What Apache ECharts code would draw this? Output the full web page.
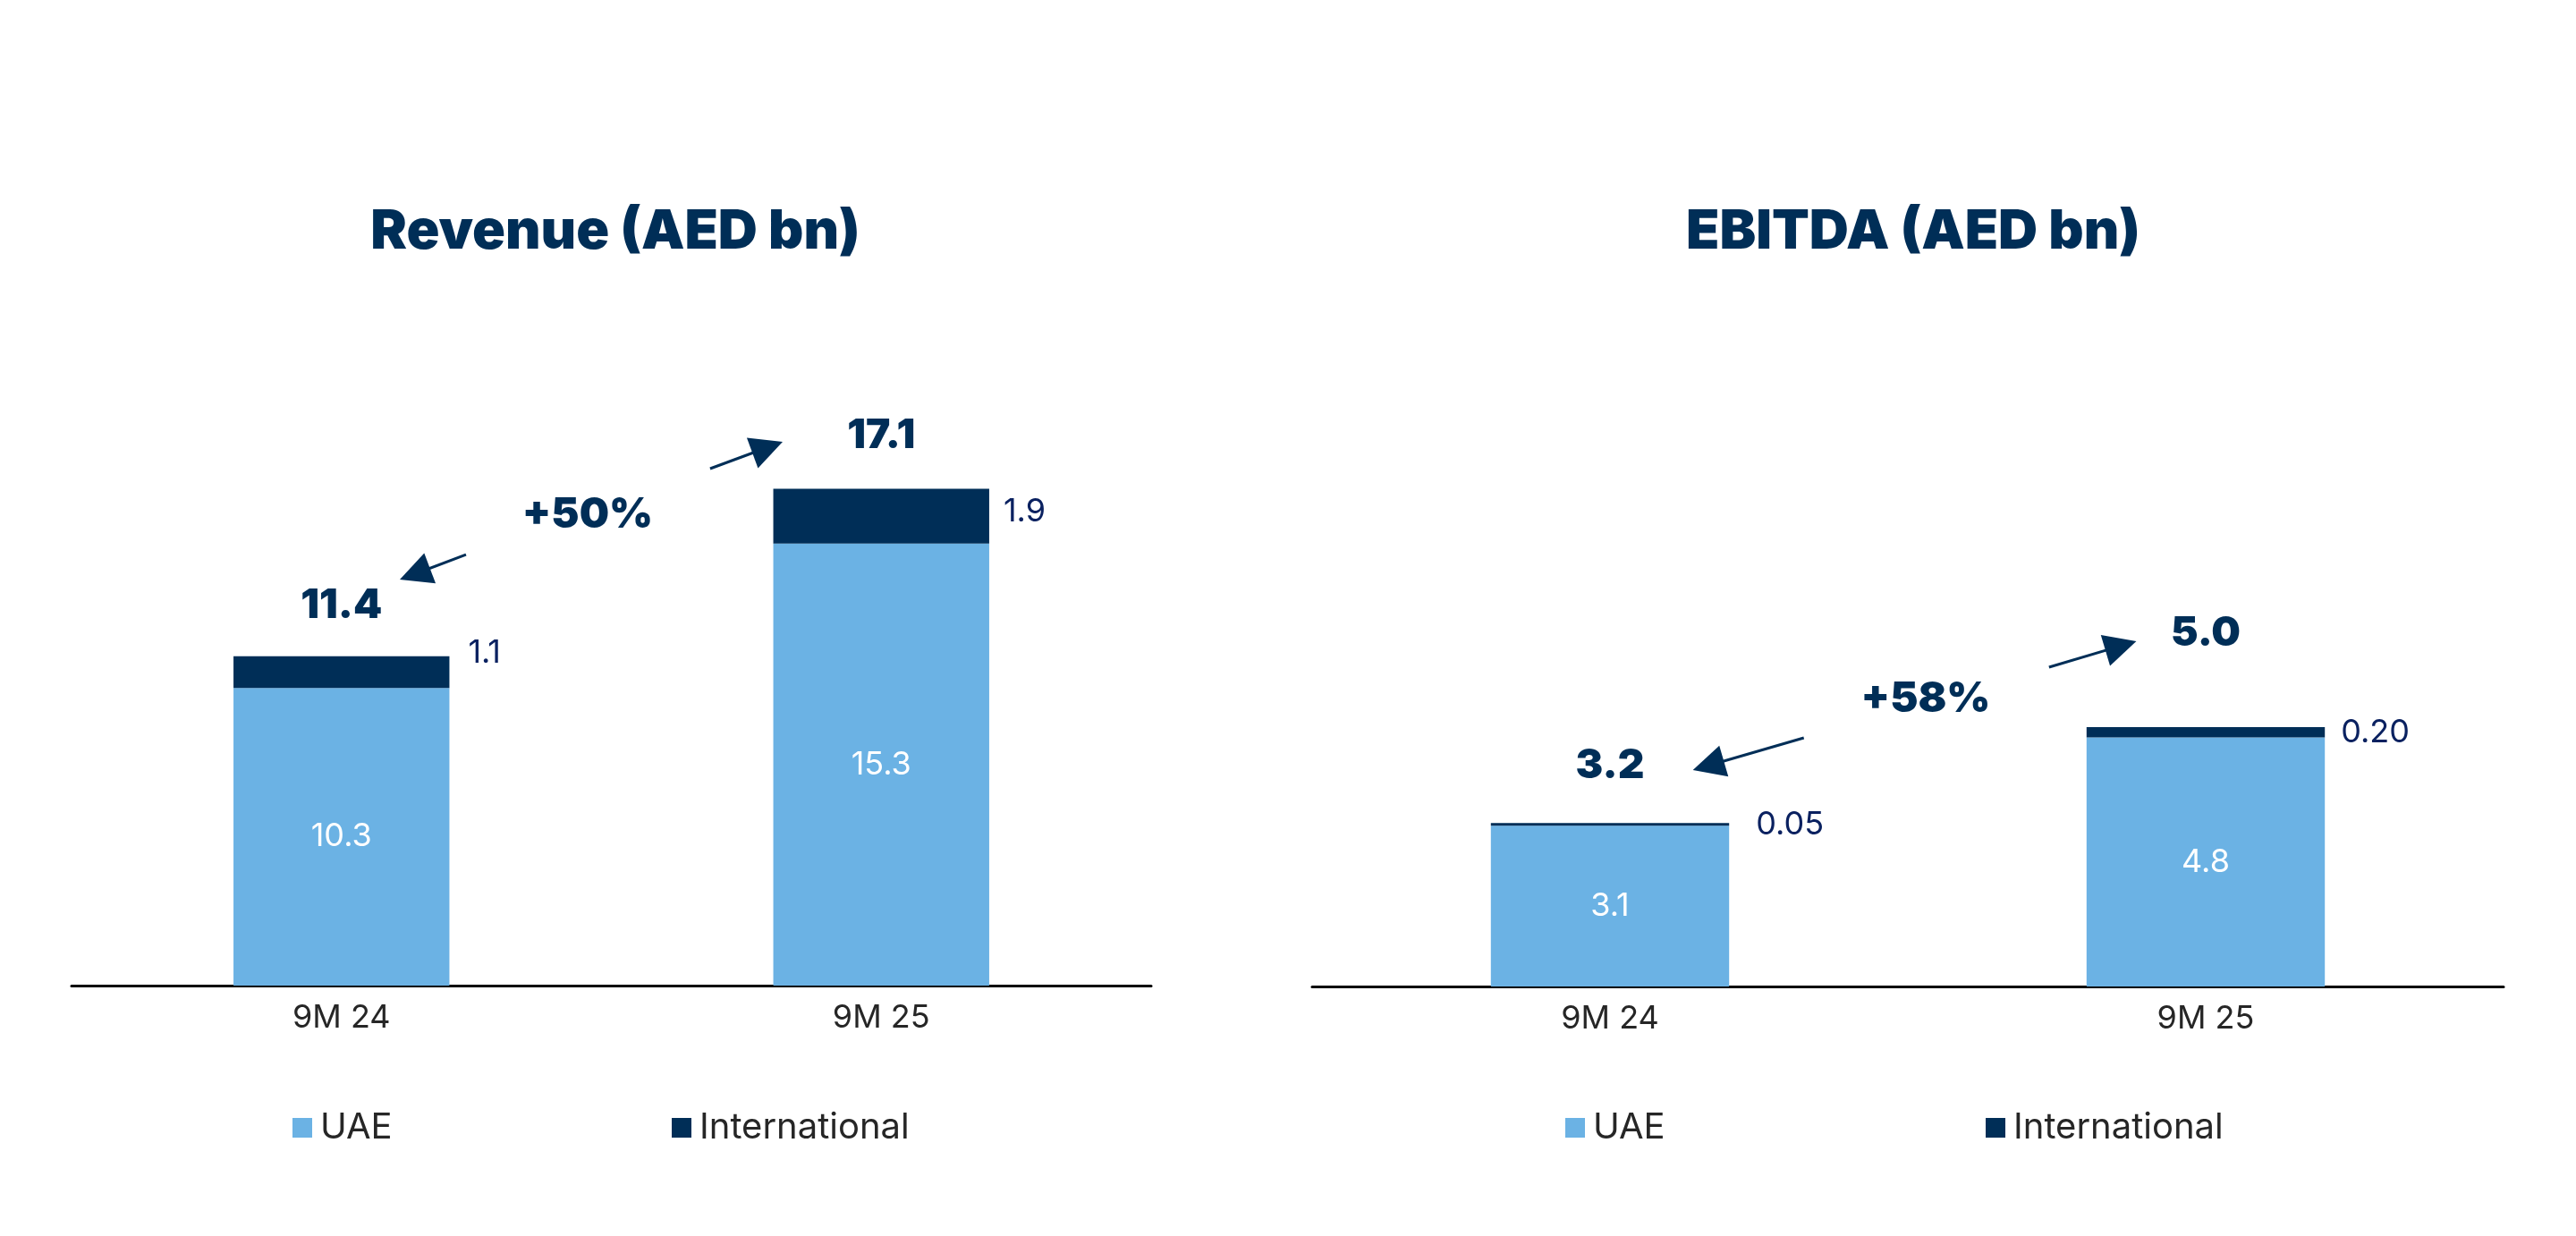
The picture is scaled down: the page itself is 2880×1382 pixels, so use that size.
<!DOCTYPE html>
<html>
<head>
<meta charset="utf-8">
<script src="https://cdn.jsdelivr.net/npm/echarts@6/dist/echarts.min.js"></script>
<style>
html,body{margin:0;padding:0;background:#fff;}
#main{width:2880px;height:1382px;}
</style>
</head>
<body>
<div id="main"></div>
<script>
// ---- data ----
const categories = ['9M 24', '9M 25'];
const seriesNames = ['UAE', 'International'];
const titles = ['Revenue (AED bn)', 'EBITDA (AED bn)'];
const revenueUAE = [10.3, 15.3];
const revenueIntl = [1.1, 1.9];
const revenueTotal = [11.4, 17.1];
const ebitdaUAE = [3.1, 4.8];
const ebitdaIntl = [0.05, 0.20];
const ebitdaTotal = [3.2, 5.0];
const growth = ['+50%', '+58%'];

// ---- styles ----
const NAVY = '#002e57';
const LIGHT = '#6bb2e4';
const FONT = 'Inter, "Open Sans", sans-serif';

const charts = [
  {uae: revenueUAE, intl: revenueIntl, total: revenueTotal, growth: growth[0], title: titles[0], dec: 1,
   grid: {left: 80, width: 1207, top: 456, height: 646}, yMax: 20, titleX: 683,
   intlLabel: [{distance: 21, offset: [0, -21]}, {distance: 16, offset: [0, -5]}],
   totalDist: [34, 39],
   arrows: [[[0.2307, 14.92], [0.136, 14.25]], [[0.683, 17.895], [0.7893, 18.63]]],
   growthPos: [0.456, 16.28],
   legendX: [327, 751]},
  {uae: ebitdaUAE, intl: ebitdaIntl, total: ebitdaTotal, growth: growth[1], title: titles[1], dec: 2,
   grid: {left: 1467, width: 1332, top: 639, height: 464}, yMax: 8, titleX: 2134,
   intlLabel: [{distance: 30, offset: [0, 0]}, {distance: 18, offset: [0, 0]}],
   totalDist: [38, 82],
   arrows: [[[0.3254, 4.793], [0.1651, 4.259]], [[0.737, 6.155], [0.8576, 6.567]]],
   growthPos: [0.530, 5.534],
   legendX: [1750, 2220]}
];

const option = {
  backgroundColor: '#fff',
  animation: false,
  title: [], grid: [], xAxis: [], yAxis: [], series: [], legend: []
};

charts.forEach((c, i) => {
  option.title.push({
    text: c.title, left: c.titleX, top: 224, textAlign: 'center',
    textStyle: {fontFamily: FONT, fontWeight: 900, fontSize: 61, color: NAVY}
  });
  option.grid.push(Object.assign({containLabel: false}, c.grid));
  // category axis
  option.xAxis.push({
    type: 'category', gridIndex: i, data: categories,
    axisLine: {lineStyle: {color: '#000', width: 3}},
    axisTick: {show: false},
    axisLabel: {fontFamily: FONT, fontSize: 36, color: '#262626', margin: 18}
  });
  // hidden value x axis for annotations
  option.xAxis.push({
    type: 'value', gridIndex: i, min: -0.5, max: 1.5, show: false
  });
  option.yAxis.push({
    type: 'value', gridIndex: i, min: 0, max: c.yMax, show: false, splitLine: {show: false}
  });
  const catX = i * 2, valX = i * 2 + 1;
  option.series.push({
    name: seriesNames[0], type: 'bar', stack: 's' + i, xAxisIndex: catX, yAxisIndex: i,
    barWidth: '40%', itemStyle: {color: LIGHT}, data: c.uae,
    label: {show: true, position: 'inside', color: '#fff', fontFamily: FONT, fontSize: 36,
            formatter: p => p.value.toFixed(1)}
  });
  option.series.push({
    name: seriesNames[1], type: 'bar', stack: 's' + i, xAxisIndex: catX, yAxisIndex: i,
    barWidth: '40%', itemStyle: {color: NAVY},
    data: c.intl.map((v, k) => ({value: v, label: c.intlLabel[k]})),
    label: {show: true, position: 'right', color: '#0a2160', fontFamily: FONT, fontSize: 36,
            formatter: p => p.value.toFixed(c.dec)}
  });
  // totals above bars
  option.series.push({
    type: 'scatter', xAxisIndex: catX, yAxisIndex: i, symbolSize: 0, silent: true,
    itemStyle: {opacity: 1, color: NAVY},
    data: c.total.map((v, k) => ({value: v, label: {distance: c.totalDist[k]}})),
    label: {show: true, position: 'top', color: NAVY, opacity: 1, fontFamily: FONT, fontWeight: 900, fontSize: 46,
            formatter: p => p.value.toFixed(1)}
  });
  // growth arrows
  option.series.push({
    type: 'lines', coordinateSystem: 'cartesian2d', xAxisIndex: valX, yAxisIndex: i, silent: true,
    symbol: ['none', 'triangle'], symbolSize: [36, 36],
    lineStyle: {color: NAVY, width: 3, opacity: 1},
    itemStyle: {color: NAVY},
    data: c.arrows.map(a => ({coords: a}))
  });
  // growth text
  option.series.push({
    type: 'scatter', xAxisIndex: valX, yAxisIndex: i, symbolSize: 0, silent: true,
    itemStyle: {opacity: 1, color: NAVY},
    data: [c.growthPos],
    label: {show: true, position: 'inside', color: NAVY, opacity: 1, fontFamily: FONT, fontWeight: 900, fontSize: 47,
            formatter: () => c.growth}
  });
  seriesNames.forEach((n, k) => {
    option.legend.push({
      data: [n], left: c.legendX[k], top: 1241, padding: 0,
      icon: 'rect', itemWidth: 22, itemHeight: 22, selectedMode: false,
      textStyle: {fontFamily: FONT, fontSize: 40, color: '#262626', padding: [0, 0, 0, 4]}
    });
  });
});

const chart = echarts.init(document.getElementById('main'));
chart.setOption(option);
</script>
</body>
</html>
